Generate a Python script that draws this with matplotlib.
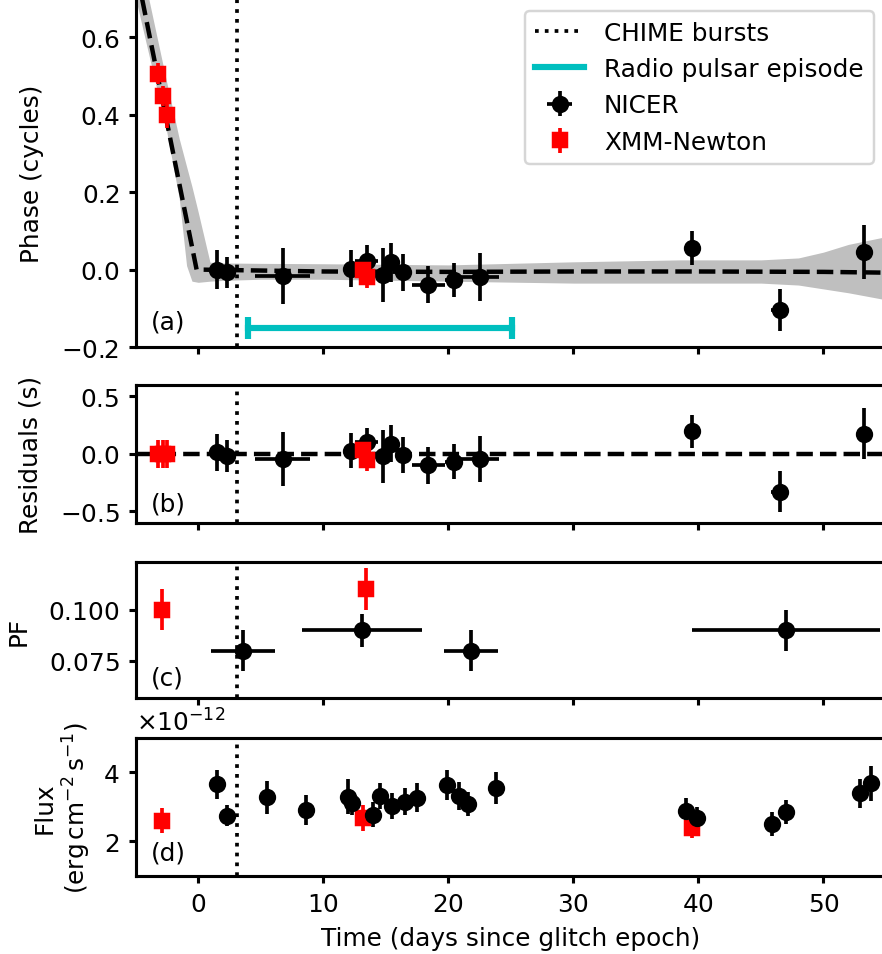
import matplotlib
matplotlib.use("Agg")
import matplotlib.pyplot as plt
import numpy as np

plt.rcParams['font.size'] = 10
plt.rcParams['axes.linewidth'] = 1.25
plt.rcParams['xtick.major.width'] = 1.25
plt.rcParams['ytick.major.width'] = 1.25
plt.rcParams['xtick.major.size'] = 3.0
plt.rcParams['ytick.major.size'] = 3.0
plt.rcParams['axes.formatter.use_mathtext'] = True

# CHIME burst epoch and radio pulsar episode (days since glitch)
chime_t = 3.07
radio_span = [4.0, 25.1]
radio_level = -0.15

# timing model (dashed) and spread of model samples (grey)
model_t = [-5.0, -0.13, 10.0, 20.0, 30.0, 40.0, 50.0, 55.0]
model_phase = [0.781, 0.0, -0.005, -0.006, -0.005, -0.005, -0.006, -0.008]
band_t = [-5.0, -4.0, -2.53, -1.52, -0.93, -0.5, 0.0, 0.94, 2.0, 5.0, 10.0,
          20.0, 30.0, 38.5, 45.0, 48.0, 50.0, 52.0, 55.0]
band_hi = [0.856, 0.706, 0.485, 0.338, 0.266, 0.214, 0.148, 0.019, 0.017, 0.016,
           0.015, 0.012, 0.02, 0.025, 0.025, 0.03, 0.045, 0.065, 0.085]
band_lo = [0.70, 0.562, 0.358, 0.184, 0.01, -0.03, -0.033, -0.03, -0.028, -0.025,
           -0.025, -0.03, -0.035, -0.035, -0.035, -0.04, -0.05, -0.06, -0.078]

# NICER phases and residuals
nicer_t = [1.47, 2.27, 6.75, 12.19, 13.47, 14.75, 15.39, 16.35, 18.4, 20.46, 22.54,
           39.5, 46.49, 53.28]
nicer_t_err = [0.3, 0.3, 2.2, 0.3, 0.9, 0.3, 0.3, 0.3, 1.33, 0.7, 1.5, 0.3, 0.7, 0.3]
nicer_phase = [0.0, -0.007, -0.016, 0.002, 0.023, -0.014, 0.019, -0.007, -0.039,
               -0.027, -0.018, 0.056, -0.104, 0.045]
nicer_phase_err = [0.05, 0.04, 0.072, 0.048, 0.04, 0.07, 0.05, 0.048, 0.048, 0.045,
                   0.062, 0.043, 0.054, 0.07]
nicer_resid = [0.015, -0.02, -0.043, 0.029, 0.10, -0.02, 0.087, -0.009, -0.10,
               -0.067, -0.043, 0.194, -0.328, 0.174]
nicer_resid_err = [0.16, 0.14, 0.235, 0.15, 0.12, 0.23, 0.16, 0.155, 0.16, 0.15,
                   0.2, 0.14, 0.18, 0.22]

# XMM-Newton phases and residuals
xmm_t = [-3.2, -2.8, -2.53, 13.2, 13.5]
xmm_phase = [0.506, 0.449, 0.40, 0.0, -0.018]
xmm_phase_err = [0.028, 0.026, 0.035, 0.03, 0.03]
xmm_resid = [0.0, 0.0, 0.0, 0.03, -0.05]
xmm_resid_err = [0.12, 0.12, 0.12, 0.1, 0.1]

# pulsed fraction
pf_nicer_t = [3.55, 13.12, 21.85, 46.99]
pf_nicer_t_err = [2.55, 4.8, 2.16, 7.5]
pf_nicer = [0.080, 0.090, 0.080, 0.090]
pf_nicer_err = [0.01, 0.008, 0.01, 0.01]
pf_xmm_t = [-2.93, 13.42]
pf_xmm = [0.100, 0.110]
pf_xmm_err = [0.01, 0.01]

# flux (1e-12 erg/cm2/s)
flux_nicer_t = [1.47, 2.27, 5.52, 8.59, 12.0, 12.27, 13.95, 14.54, 15.5, 16.51, 17.52,
                19.87, 20.83, 21.6, 23.82, 38.99, 39.92, 45.92, 46.99, 52.94, 53.82]
flux_nicer = [3.65, 2.74, 3.28, 2.91, 3.30, 3.11, 2.77, 3.32, 3.03, 3.15, 3.27,
              3.63, 3.32, 3.08, 3.54, 2.87, 2.67, 2.51, 2.85, 3.40, 3.68]
flux_nicer_err = [0.43, 0.31, 0.48, 0.43, 0.52, 0.36, 0.36, 0.38, 0.37, 0.4, 0.42,
                  0.43, 0.4, 0.36, 0.47, 0.4, 0.34, 0.35, 0.34, 0.42, 0.51]
flux_xmm_t = [-2.93, 13.15, 39.5]
flux_xmm = [2.60, 2.67, 2.38]
flux_xmm_err = [0.36, 0.38, 0.28]

DPI = 178
W, H = 882, 955
fig = plt.figure(figsize=(W / DPI, H / DPI), dpi=DPI)
left, right = 135.7, 886.0


def add_panel(top, bottom):
    return fig.add_axes([left / W, 1 - bottom / H, (right - left) / W, (bottom - top) / H])


ax1 = add_panel(-0.5, 348.0)
ax2 = add_panel(385.7, 524.0)
ax3 = add_panel(563.3, 699.0)
ax4 = add_panel(739.0, 876.7)
axes = [ax1, ax2, ax3, ax4]

# (a) phase
ax1.fill_between(band_t, band_lo, band_hi, color='0.75', lw=0)
ax1.plot(model_t, model_phase, 'k--', lw=1.8)
ax1.axvline(chime_t, color='k', ls=':', lw=1.5, label='CHIME bursts')
ax1.plot(radio_span, [radio_level] * 2, color='c', lw=2.5, label='Radio pulsar episode')
ax1.plot(radio_span, [radio_level] * 2, '|', color='c', ms=9, mew=2.5)
ax1.errorbar(nicer_t, nicer_phase, yerr=nicer_phase_err, xerr=nicer_t_err,
             fmt='ko', label='NICER')
ax1.errorbar(xmm_t, xmm_phase, yerr=xmm_phase_err, fmt='rs', label='XMM-Newton')
ax1.set_ylim(-0.2, 0.7)
ax1.set_ylabel('Phase (cycles)', labelpad=7)
ax1.legend(loc='upper right')

# (b) residuals
ax2.axhline(0, color='k', ls='--', lw=1.8)
ax2.axvline(chime_t, color='k', ls=':', lw=1.5)
ax2.errorbar(nicer_t, nicer_resid, yerr=nicer_resid_err, xerr=nicer_t_err, fmt='ko')
ax2.errorbar(xmm_t, xmm_resid, yerr=xmm_resid_err, fmt='rs')
ax2.set_ylim(-0.6, 0.6)
ax2.set_ylabel('Residuals (s)', labelpad=7)

# (c) pulsed fraction
ax3.axvline(chime_t, color='k', ls=':', lw=1.5)
ax3.errorbar(pf_nicer_t, pf_nicer, yerr=pf_nicer_err, xerr=pf_nicer_t_err, fmt='ko')
ax3.errorbar(pf_xmm_t, pf_xmm, yerr=pf_xmm_err, fmt='rs')
ax3.set_ylim(0.057, 0.123)
ax3.set_yticks([0.075, 0.100])
ax3.set_ylabel('PF', labelpad=7)

# (d) flux
ax4.axvline(chime_t, color='k', ls=':', lw=1.5)
ax4.errorbar(flux_xmm_t, np.array(flux_xmm) * 1e-12, yerr=np.array(flux_xmm_err) * 1e-12,
             fmt='rs')
ax4.errorbar(flux_nicer_t, np.array(flux_nicer) * 1e-12,
             yerr=np.array(flux_nicer_err) * 1e-12, fmt='ko')
ax4.set_ylim(1e-12, 5e-12)
ax4.set_yticks([2e-12, 4e-12])
ax4.set_ylabel('Flux\n' + r'(erg$\,$cm$^{-2}\,$s$^{-1}$)')
ax4.set_xlabel('Time (days since glitch epoch)')

for ax, lab, yy in zip(axes, ['(a)', '(b)', '(c)', '(d)'], [0.072, 0.14, 0.15, 0.17]):
    ax.set_xlim(-5, 55)
    ax.set_xticks([0, 10, 20, 30, 40, 50])
    ax.text(0.02, yy, lab, transform=ax.transAxes, va='center')
for ax in axes[:3]:
    ax.tick_params(labelbottom=False)

fig.savefig('out.png', dpi=DPI)
